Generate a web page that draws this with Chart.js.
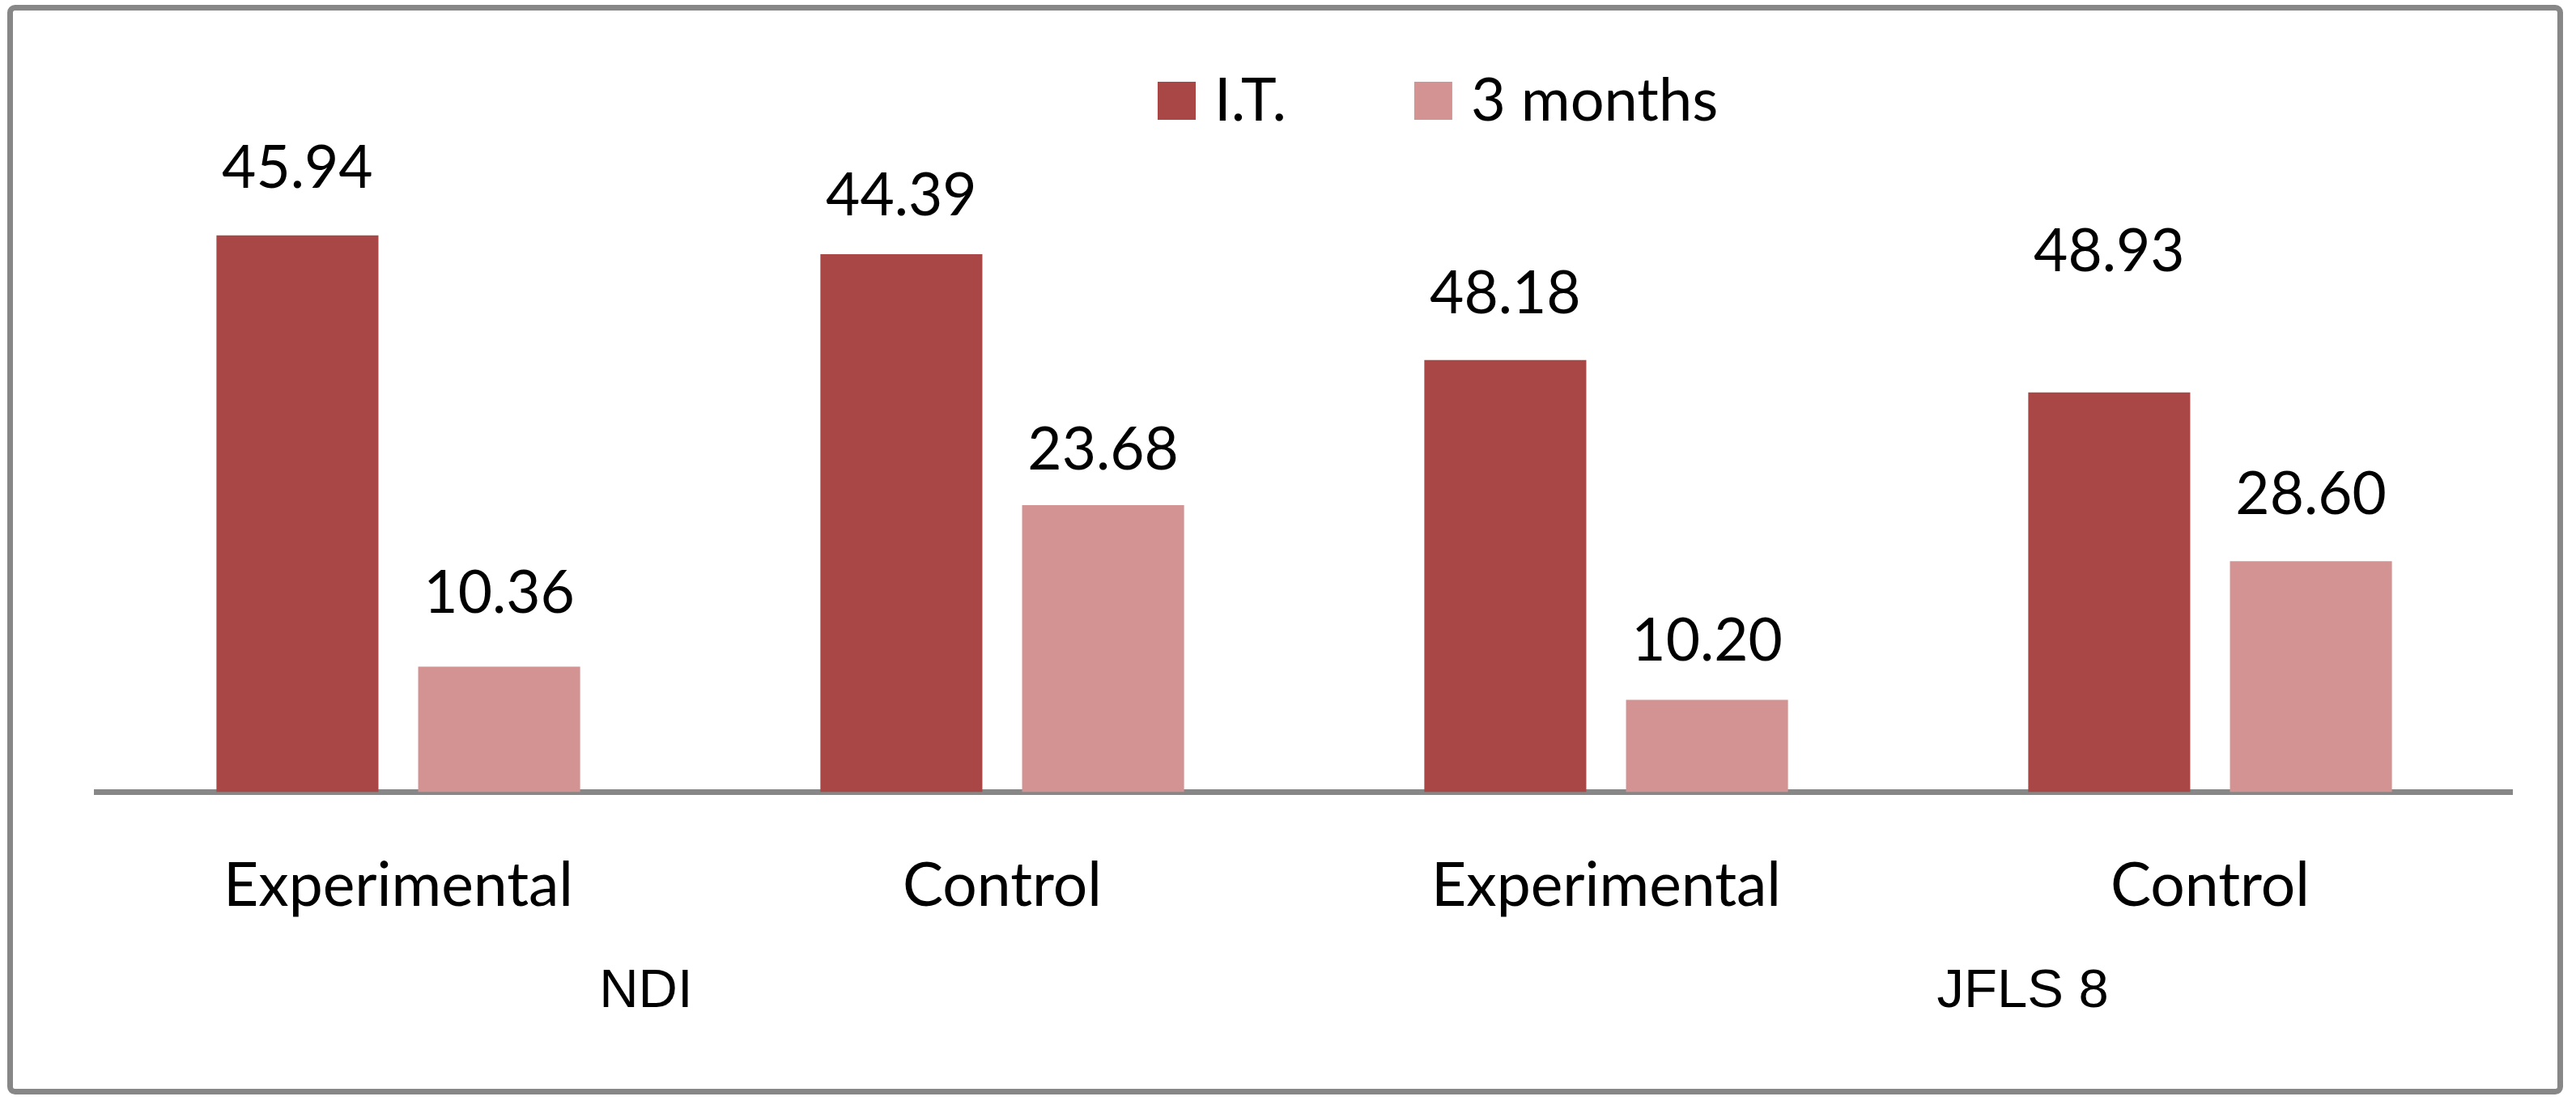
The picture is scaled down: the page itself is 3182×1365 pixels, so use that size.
<!DOCTYPE html>
<html>
<head>
<meta charset="utf-8">
<script src="https://cdn.jsdelivr.net/npm/chart.js@4/dist/chart.umd.min.js"></script>
<style>
  html, body { margin: 0; padding: 0; background: #fff; }
  #wrap { width: 3182px; height: 1365px; position: relative; }
</style>
</head>
<body>
<div id="wrap"><canvas id="chart"></canvas></div>
<script>
const categories = ["Experimental", "Control", "Experimental", "Control"];
const groups = ["NDI", "JFLS 8"];
const seriesNames = ["I.T.", "3 months"];

// bar heights as drawn (JFLS bars do not follow their printed numbers)
const itValues = [45.94, 44.39, 35.65, 32.98];
const monthValues = [10.36, 23.68, 7.62, 19.05];

// numbers printed over the bars
const itLabels = ["45.94", "44.39", "48.18", "48.93"];
const monthLabels = ["10.36", "23.68", "10.20", "28.60"];

const FONT = "Lato, 'Liberation Sans', sans-serif";
const GREY = "#878787";

// how far above the bar top each number sits (px)
const itLift = [59, 48, 58, 150];
const monthLift = [66, 44, 48, 58];
// where the group names sit, in category units
const groupAt = [0.41, 2.69];

const ctx = document.getElementById("chart").getContext("2d");

const frame = {
  id: "frame",
  beforeDraw(chart) {
    const c = chart.ctx;
    c.save();
    c.fillStyle = "#fff";
    c.fillRect(0, 0, chart.width, chart.height);
    c.strokeStyle = GREY;
    c.lineWidth = 7;
    c.beginPath();
    c.roundRect(12.5, 9.5, 3150, 1339, 6);
    c.stroke();
    c.restore();
  },
  afterDraw(chart) {
    const c = chart.ctx;
    const x = chart.scales.x;
    c.save();
    c.fillStyle = "#000";

    // numbers above bars
    c.font = "73px " + FONT;
    c.textAlign = "center";
    c.textBaseline = "alphabetic";
    const texts = [itLabels, monthLabels];
    const lifts = [itLift, monthLift];
    chart.data.datasets.forEach((ds, d) => {
      chart.getDatasetMeta(d).data.forEach((bar, i) => {
        c.fillText(texts[d][i], bar.x, bar.y - lifts[d][i]);
      });
    });

    // group names under the category labels
    c.font = "67px 'Liberation Sans', Arial, sans-serif";
    groups.forEach((g, i) => {
      c.fillText(g, x.getPixelForValue(groupAt[i]), 1244);
    });

    // legend
    c.font = "74px " + FONT;
    c.textAlign = "left";
    let lx = 1430;
    chart.data.datasets.forEach((ds) => {
      c.fillStyle = ds.backgroundColor;
      c.fillRect(lx, 101, 47, 47);
      c.fillStyle = "#000";
      c.fillText(ds.label, lx + 70, 149);
      lx += 70 + c.measureText(ds.label).width + 158;
    });
    c.restore();
  }
};

new Chart(ctx, {
  type: "bar",
  data: {
    labels: categories,
    datasets: [
      {
        label: seriesNames[0],
        data: itValues,
        backgroundColor: "#A94746",
        categoryPercentage: 0.668,
        barPercentage: 0.803
      },
      {
        label: seriesNames[1],
        data: monthValues,
        backgroundColor: "#D29392",
        categoryPercentage: 0.668,
        barPercentage: 0.803
      }
    ]
  },
  options: {
    responsive: true,
    maintainAspectRatio: false,
    devicePixelRatio: 1,
    animation: false,
    layout: { padding: { top: 230, left: 119, right: 79, bottom: 0 } },
    plugins: {
      legend: { display: false },
      tooltip: { enabled: false }
    },
    scales: {
      x: {
        z: 1,
        grid: { display: false },
        border: { display: true, color: GREY, width: 7 },
        ticks: {
          color: "#000",
          padding: 63,
          font: { family: FONT, size: 75 }
        },
        afterFit(scale) { scale.height = 386.5; }
      },
      y: {
        display: false,
        min: 0,
        max: 50
      }
    }
  },
  plugins: [frame]
});
</script>
</body>
</html>
